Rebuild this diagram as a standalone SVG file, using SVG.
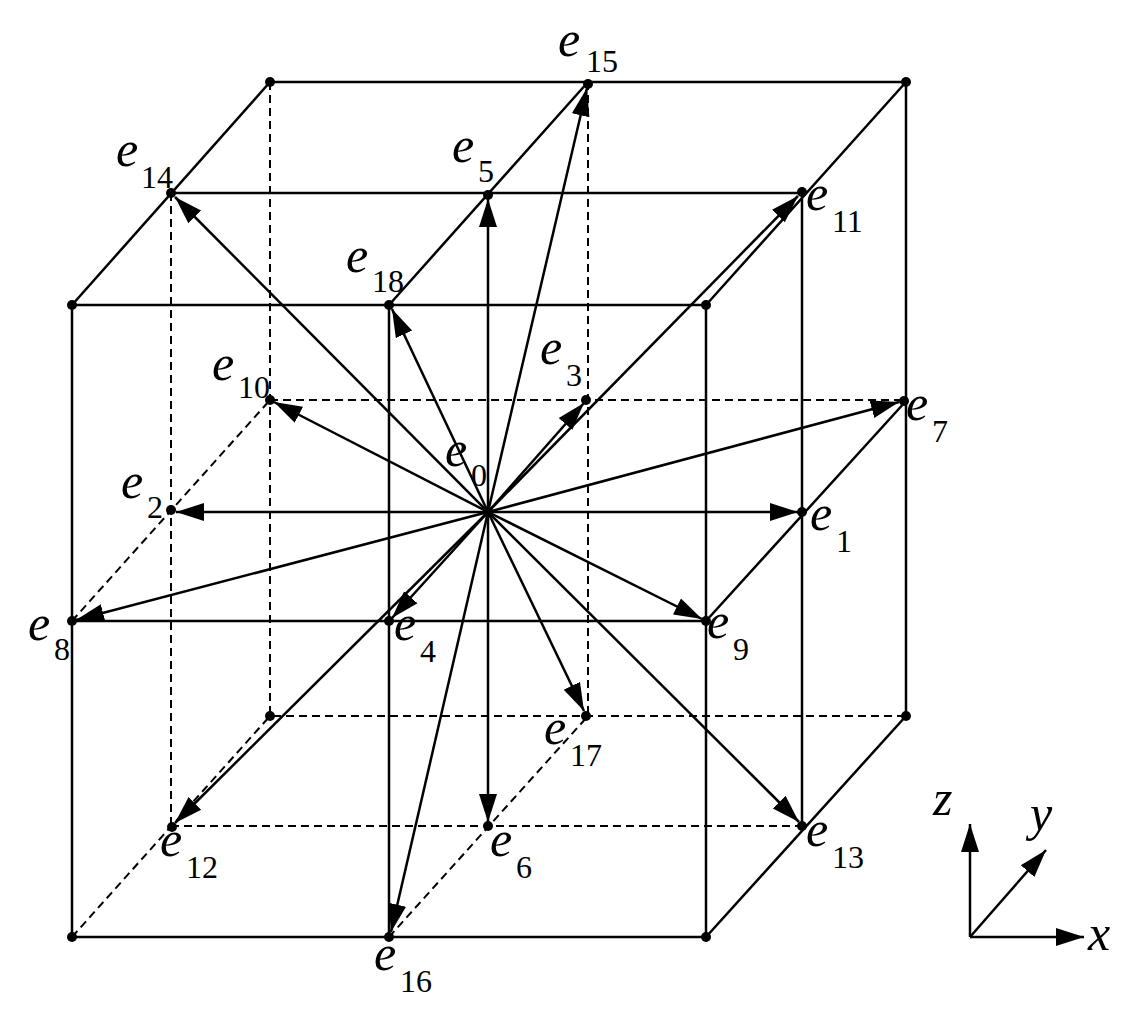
<svg xmlns="http://www.w3.org/2000/svg" width="1139" height="1017" viewBox="0 0 1139 1017">
<style>
.s{stroke:#000;stroke-width:2.5;fill:none}
.d{stroke:#000;stroke-width:2;fill:none;stroke-dasharray:8,5}
.a{stroke:#000;stroke-width:2.5;fill:none;marker-end:url(#ah)}
.e{font-family:"Liberation Serif",serif;font-style:italic;font-size:50px}
.n{font-family:"Liberation Serif",serif;font-size:32px}
</style>
<defs>
<marker id="ah" markerUnits="userSpaceOnUse" markerWidth="30" markerHeight="20" refX="28" refY="10" orient="auto"><path d="M0,1 L28,10 L0,19 Z" fill="#000"/></marker>
</defs>
<rect width="1139" height="1017" fill="#fff"/>
<g id="edges">
<path class="s" d="M72,305H706V937H72Z M389,305V937 M72,621H706 M270,82H906V716 M72,305L270,82 M706,305L906,82 M389,305L588,82 M171,193H802 M802,193V826 M706,621L906,401 M706,937L906,716"/>
<path class="d" d="M270,82V716H906 M270,400H906 M588,82V716 M171,193V826 M72,621L270,400 M72,937L270,716 M171,826H802 M389,937L588,716"/>
</g>
<g id="connectors">
<line class="a" x1="488" y1="512" x2="798" y2="512"/>
<line class="a" x1="488" y1="512" x2="176" y2="512"/>
<line class="a" x1="488" y1="512" x2="584" y2="403"/>
<line class="a" x1="488" y1="512" x2="392" y2="618"/>
<line class="a" x1="488" y1="512" x2="488" y2="199"/>
<line class="a" x1="488" y1="512" x2="488" y2="822"/>
<line class="a" x1="488" y1="512" x2="899" y2="402"/>
<line class="a" x1="488" y1="512" x2="76" y2="620"/>
<line class="a" x1="488" y1="512" x2="702" y2="619"/>
<line class="a" x1="488" y1="512" x2="274" y2="402"/>
<line class="a" x1="488" y1="512" x2="798" y2="196"/>
<line class="a" x1="488" y1="512" x2="175" y2="823"/>
<line class="a" x1="488" y1="512" x2="799" y2="822"/>
<line class="a" x1="488" y1="512" x2="175" y2="197"/>
<line class="a" x1="488" y1="512" x2="587" y2="88"/>
<line class="a" x1="488" y1="512" x2="391" y2="932"/>
<line class="a" x1="488" y1="512" x2="584" y2="711"/>
<line class="a" x1="488" y1="512" x2="392" y2="309"/>
</g>
<g id="dots" fill="#000">
<circle cx="270" cy="82" r="5"/><circle cx="588" cy="84" r="5"/><circle cx="906" cy="82" r="5"/>
<circle cx="171" cy="193" r="5"/><circle cx="488" cy="195" r="5"/><circle cx="802" cy="192" r="5"/>
<circle cx="72" cy="305" r="5"/><circle cx="389" cy="305" r="5"/><circle cx="706" cy="305" r="5"/>
<circle cx="270" cy="400" r="5"/><circle cx="586" cy="400" r="5"/><circle cx="904" cy="401" r="5"/>
<circle cx="171" cy="510" r="5"/><circle cx="488" cy="512" r="5"/><circle cx="802" cy="512" r="5"/>
<circle cx="72" cy="621" r="5"/><circle cx="389" cy="621" r="5"/><circle cx="706" cy="621" r="5"/>
<circle cx="270" cy="716" r="5"/><circle cx="586" cy="716" r="5"/><circle cx="906" cy="716" r="5"/>
<circle cx="172" cy="827" r="5"/><circle cx="488" cy="826" r="5"/><circle cx="802" cy="826" r="5"/>
<circle cx="72" cy="937" r="5"/><circle cx="389" cy="937" r="5"/><circle cx="706" cy="937" r="5"/>
</g>
<g id="labels">
<g id="e15"><text class="e" x="558" y="56">e</text><text class="n" x="586" y="72">15</text></g>
<g id="e14"><text class="e" x="116" y="166">e</text><text class="n" x="141" y="188">14</text></g>
<g id="e5"><text class="e" x="452" y="162">e</text><text class="n" x="478" y="182">5</text></g>
<g id="e18"><text class="e" x="346" y="272">e</text><text class="n" x="372" y="292">18</text></g>
<g id="e11"><text class="e" x="806" y="210">e</text><text class="n" x="832" y="232">11</text></g>
<g id="e10"><text class="e" x="212" y="380">e</text><text class="n" x="238" y="398">10</text></g>
<g id="e3"><text class="e" x="540" y="364">e</text><text class="n" x="566" y="386">3</text></g>
<g id="e7"><text class="e" x="906" y="420">e</text><text class="n" x="932" y="442">7</text></g>
<g id="e0"><text class="e" x="445" y="466">e</text><text class="n" x="471" y="486">0</text></g>
<g id="e2"><text class="e" x="121" y="498">e</text><text class="n" x="147" y="518">2</text></g>
<g id="e1"><text class="e" x="810" y="530">e</text><text class="n" x="836" y="552">1</text></g>
<g id="e8"><text class="e" x="28" y="640">e</text><text class="n" x="54" y="660">8</text></g>
<g id="e4"><text class="e" x="394" y="640">e</text><text class="n" x="420" y="662">4</text></g>
<g id="e9"><text class="e" x="707" y="638">e</text><text class="n" x="733" y="660">9</text></g>
<g id="e17"><text class="e" x="544" y="744">e</text><text class="n" x="570" y="766">17</text></g>
<g id="e12"><text class="e" x="160" y="856">e</text><text class="n" x="186" y="878">12</text></g>
<g id="e6"><text class="e" x="490" y="856">e</text><text class="n" x="516" y="878">6</text></g>
<g id="e13"><text class="e" x="806" y="846">e</text><text class="n" x="832" y="868">13</text></g>
<g id="e16"><text class="e" x="374" y="970">e</text><text class="n" x="400" y="992">16</text></g>
</g>
<g id="axes">
<line class="a" x1="970" y1="937" x2="970" y2="824"/>
<line class="a" x1="970" y1="937" x2="1084" y2="937"/>
<line class="a" x1="970" y1="937" x2="1046" y2="850"/>
<text class="e" x="933" y="815">z</text>
<text class="e" x="1030" y="830">y</text>
<text class="e" x="1088" y="950">x</text>
</g>
</svg>
